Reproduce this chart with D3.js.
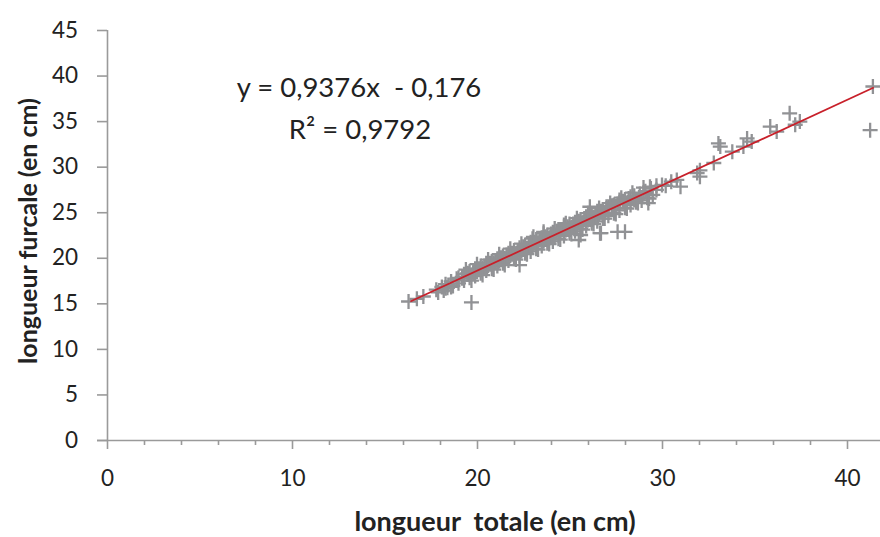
<!DOCTYPE html>
<html><head><meta charset="utf-8">
<script src="https://cdn.jsdelivr.net/npm/d3@7"></script>
<style>
body{margin:0;background:#fff;}
svg{display:block;font-family:Lato,"Open Sans",sans-serif;}
</style></head>
<body><svg id="c" width="880" height="537"></svg>
<script>
// Tick values
const xTicks = [0, 10, 20, 30, 40];
const xMinorTicks = [2,4,6,8,12,14,16,18,22,24,26,28,32,34,36,38,42,44];
const yTicks = [0, 5, 10, 15, 20, 25, 30, 35, 40, 45];

// Regression line (from the equation shown)
const slope = 0.9376;
const intercept = -0.176;
const lineX = [16.4, 41.45];

// Observed points: longueur totale (x), longueur furcale (y), in cm
const totale = [
16.3,16.75,17.1,19.7,17.8,17.9,18.1,18.2,18.3,18.4,18.6,18.7,18.6,18.9,19.0,19.0,
19.2,19.3,19.3,19.5,19.6,19.6,19.8,19.9,19.9,19.8,20.1,20.2,20.2,20.0,
20.4,20.5,20.5,20.3,20.7,20.8,20.8,20.6,21.0,21.1,21.1,20.9,
21.3,21.4,21.4,21.2,21.6,21.7,21.7,21.5,21.9,22.0,22.0,21.8,
22.2,22.3,22.3,22.1,22.5,22.6,22.6,22.4,22.8,22.9,22.9,22.7,
23.1,23.2,23.2,23.0,23.4,23.5,23.5,23.3,23.7,23.8,23.8,23.6,
24.0,24.1,24.1,23.9,24.3,24.4,24.4,24.2,24.6,24.7,24.7,24.5,
24.9,25.0,25.0,24.8,25.2,25.3,25.3,25.1,25.5,25.6,25.6,25.4,
25.8,25.9,25.9,25.7,26.1,26.2,26.2,26.0,26.4,26.5,26.5,26.3,
26.7,26.8,26.8,26.6,27.0,27.1,27.1,26.9,27.3,27.4,27.4,
27.6,27.7,27.7,27.9,28.0,28.0,28.2,28.3,28.3,28.5,28.6,28.8,28.9,
29.1,29.2,29.4,29.5,29.7,30.0,30.2,
19.4,19.7,20.0,20.3,20.6,20.9,21.2,21.5,21.8,22.1,22.4,22.7,23.0,23.3,23.6,23.9,
24.2,24.5,24.8,25.1,25.4,25.7,26.0,26.3,26.6,26.9,27.2,27.5,27.8,28.1,28.4,28.7,29.0,29.3,
22.3,25.5,25.6,26.7,27.6,28.0,26.65,26.85,23.05,23.6,24.7,26.1,18.3,18.45,19.2,19.5,
27.0,27.7,28.5,29.0,29.35,29.7,29.26,30.5,30.8,31.0,31.9,32.05,32.05,32.8,
33.05,33.15,33.8,34.4,34.6,34.85,35.85,36.2,36.9,37.2,37.45,41.4,41.25
];
const furcale = [
15.2,15.5,15.75,15.1,16.5,16.2,16.8,16.4,17.1,16.7,17.4,16.9,16.8,17.7,17.2,17.8,
17.9,17.5,18.2,18.2,17.8,18.5,18.5,18.0,18.8,18.3,18.8,18.3,19.1,18.5,
19.1,18.6,19.4,18.85,19.4,18.8,19.6,19.15,19.7,19.1,19.9,19.45,
20.0,19.4,20.2,19.65,20.3,19.7,20.5,19.95,20.5,19.9,20.8,20.25,
20.8,20.2,21.1,20.45,21.2,20.5,21.4,20.75,21.4,20.7,21.7,21.05,
21.7,21.0,22.0,21.35,22.0,21.3,22.2,21.65,22.3,21.6,22.5,21.85,
22.6,21.8,22.8,22.15,22.9,22.1,23.1,22.45,23.1,22.4,23.4,22.75,
23.4,22.7,23.7,23.05,23.7,22.9,23.9,23.35,24.0,23.2,24.2,23.55,
24.3,23.5,24.5,23.85,24.6,23.8,24.8,24.15,24.8,24.0,25.1,24.45,
25.1,24.3,25.3,24.75,25.4,24.6,25.6,24.95,25.7,24.9,25.8,
25.9,25.2,26.1,26.2,25.5,26.4,26.5,25.8,26.7,26.8,26.1,27.0,26.3,
27.3,26.6,27.6,26.9,27.9,28.0,27.9,
18.7,17.5,19.3,18.1,19.8,18.7,20.4,19.2,21.0,19.8,21.55,20.4,22.1,20.9,22.65,21.5,
23.2,22.0,23.8,22.6,24.35,23.1,24.9,23.7,25.45,24.3,26.0,24.8,26.6,25.4,27.15,26.0,27.7,26.5,
19.2,21.95,22.5,22.7,22.85,22.85,22.7,24.9,22.3,22.85,23.6,25.6,16.65,17.0,17.75,18.3,
25.6,26.35,26.35,27.1,27.8,27.45,26.0,28.35,28.55,27.8,29.3,29.6,28.9,30.4,
32.55,32.2,31.65,32.2,33.1,32.75,34.4,33.85,35.85,34.6,34.95,38.8,34.0
];

const svg = d3.select('#c');
const x = d3.scaleLinear().domain([0, 45]).range([107, 939.5]);
const y = d3.scaleLinear().domain([0, 45]).range([440, 30]);
const axisColor = '#9a9a9a';
const textColor = '#222';

// X axis
const gx = svg.append('g').attr('transform', `translate(0,${y(0)})`);
gx.call(d3.axisBottom(x).tickValues(xTicks).tickSize(9).tickPadding(21).tickFormat(d3.format('d')));
const gxm = svg.append('g').attr('transform', `translate(0,${y(0)})`);
gxm.call(d3.axisBottom(x).tickValues(xMinorTicks).tickSize(5).tickFormat(''));
gxm.select('.domain').remove();
// Y axis
const gy = svg.append('g').attr('transform', `translate(${x(0)},0)`);
gy.call(d3.axisLeft(y).tickValues(yTicks).tickSize(10).tickPadding(19).tickFormat(d3.format('d')));

[gx, gy, gxm].forEach(g => {
  g.selectAll('.domain').attr('stroke', axisColor).attr('stroke-width', 1.6);
  g.selectAll('.tick line').attr('stroke', axisColor).attr('stroke-width', 1.6);
  g.selectAll('.tick text').attr('fill', textColor).style('font-size', '22.5px').style('font-family', 'Lato, sans-serif');
});
gx.select('.domain').attr('d', `M${x(0)-10},0.5H880`);
gy.select('.domain').attr('d', `M0.5,${y(45)}V${y(0)}`);

// Points as "+" markers
const pts = totale.map((t, i) => [t, furcale[i]]);
const arm = 7.5;
svg.append('g').attr('stroke', '#919295').attr('stroke-width', 2.3).attr('fill', 'none')
  .selectAll('path').data(pts).join('path')
  .attr('d', d => {
    const cx = x(d[0]), cy = y(d[1]);
    return `M${cx-arm},${cy}H${cx+arm}M${cx},${cy-arm}V${cy+arm}`;
  });

// Regression line
svg.append('path')
  .datum(lineX.map(v => [v, slope * v + intercept]))
  .attr('d', d3.line().x(d => x(d[0])).y(d => y(d[1])))
  .attr('stroke', '#c8202a').attr('stroke-width', 1.8).attr('fill', 'none');

// Equation text
svg.append('text').attr('x', 359).attr('y', 97).attr('text-anchor', 'middle')
  .attr('fill', textColor).style('font-size', '27.5px').style('white-space', 'pre')
  .text('y = 0,9376x  - 0,176');
svg.append('text').attr('x', 360).attr('y', 139).attr('text-anchor', 'middle')
  .attr('fill', textColor).style('font-size', '27.5px')
  .text('R² = 0,9792');

// Axis titles
svg.append('text').attr('x', 495).attr('y', 531).attr('text-anchor', 'middle')
  .attr('fill', textColor).style('font-size', '27px').style('font-weight', 'bold').style('white-space', 'pre')
  .text('longueur  totale (en cm)');
svg.append('text').attr('transform', 'translate(37,231) rotate(-90)').attr('text-anchor', 'middle')
  .attr('fill', textColor).style('font-size', '25px').style('font-weight', 'bold')
  .text('longueur furcale (en cm)');
</script></body></html>
